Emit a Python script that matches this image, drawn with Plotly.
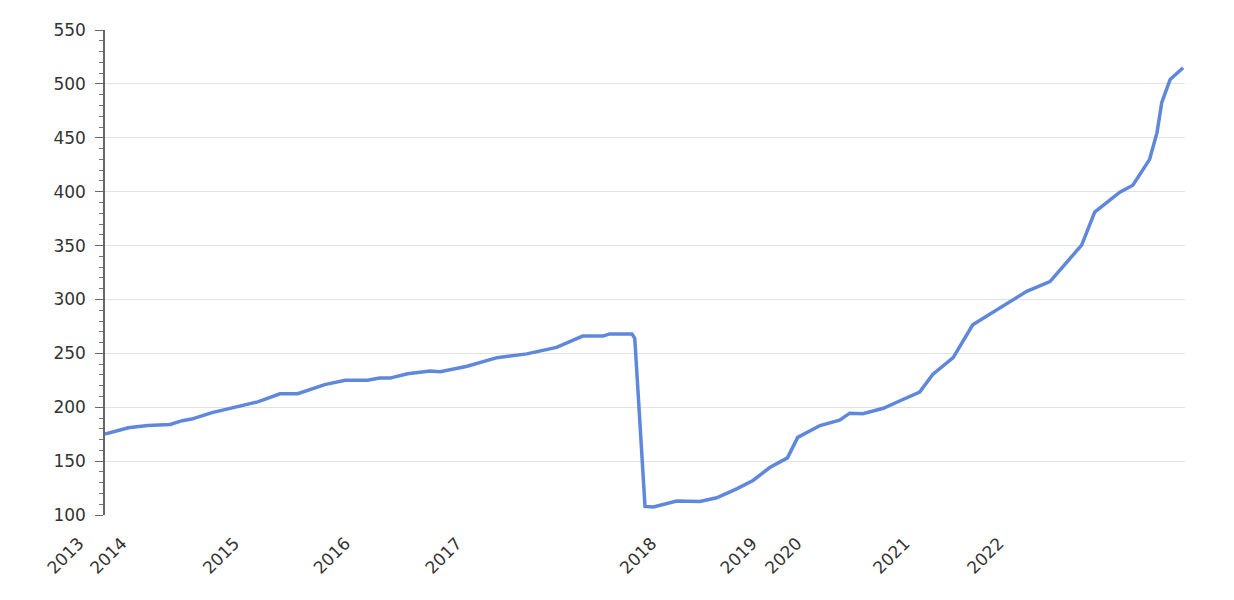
import plotly.graph_objects as go

# position along the series (one step per reporting period) and value
periods = [0, 2.5, 4.6, 7.0, 8.3, 9.3, 11.5, 14.0, 16.4, 18.8, 20.7, 23.6, 25.8,
           28.2, 29.5, 30.6, 32.5, 34.9, 36.0, 38.9, 42.1, 45.3, 48.5, 51.3,
           53.5, 54.2, 56.6, 56.9, 58.0, 58.9, 61.4, 63.9, 65.7, 67.9, 69.6,
           71.4, 73.3, 74.4, 76.8, 78.9, 80.0, 81.4, 83.6, 85.4, 87.5, 88.9,
           91.1, 93.2, 96.1, 99.0, 101.5, 103.3, 104.9, 106.3, 109.0, 110.4,
           112.2, 113.0, 113.5, 114.4, 115.8]
values = [175, 181, 183, 184, 187.5, 189, 195, 200, 205, 212.5, 212.5, 221, 225,
          225, 227, 227, 231, 233.5, 233, 238, 246, 249.5, 255.5, 266,
          266, 268, 268, 264, 108, 107.5, 113, 112.5, 116, 124.5, 132,
          144, 153, 172, 183, 188, 194.5, 194, 199, 206, 214, 230.5,
          246, 276.5, 292, 307.5, 316.5, 335, 350.5, 381, 399.5, 406,
          430, 455, 482.5, 504, 515]

year_ticks = [0, 4.6, 16.7, 28.6, 40.6, 61.5, 72.3, 77.1, 88.7, 98.8]
year_labels = ["2013", "2014", "2015", "2016", "2017", "2018", "2019", "2020",
               "2021", "2022"]

fig = go.Figure()
fig.add_trace(go.Scatter(
    x=periods,
    y=values,
    mode="lines",
    line=dict(color="#5f87dc", width=3.5),
    hoverinfo="y",
))

# page body adds 8px, so margins are trimmed to keep the plot box in place
fig.update_layout(
    width=1234,
    height=600,
    margin=dict(l=97, r=57, t=19, b=93),
    paper_bgcolor="white",
    plot_bgcolor="white",
    showlegend=False,
    font=dict(family="DejaVu Sans", size=17, color="#333333"),
)
fig.update_xaxes(
    range=[0, 116],
    tickvals=year_ticks,
    ticktext=year_labels,
    tickangle=-45,
    showgrid=False,
    zeroline=False,
    showline=False,
    ticks="",
    ticklabelshift=-26,
    ticklabelstandoff=14,
    tickfont=dict(size=17, color="#333333"),
)
fig.update_yaxes(
    range=[100, 550],
    dtick=50,
    showgrid=True,
    gridcolor="#e2e2e2",
    gridwidth=1.2,
    zeroline=False,
    showline=True,
    linecolor="#666666",
    linewidth=1.5,
    ticks="outside",
    ticklen=8,
    tickcolor="#666666",
    ticklabelstandoff=6,
    minor=dict(dtick=10, ticks="outside", ticklen=4, tickcolor="#777777",
               showgrid=False),
    tickfont=dict(size=17, color="#333333"),
)

fig.write_html("out.html")
